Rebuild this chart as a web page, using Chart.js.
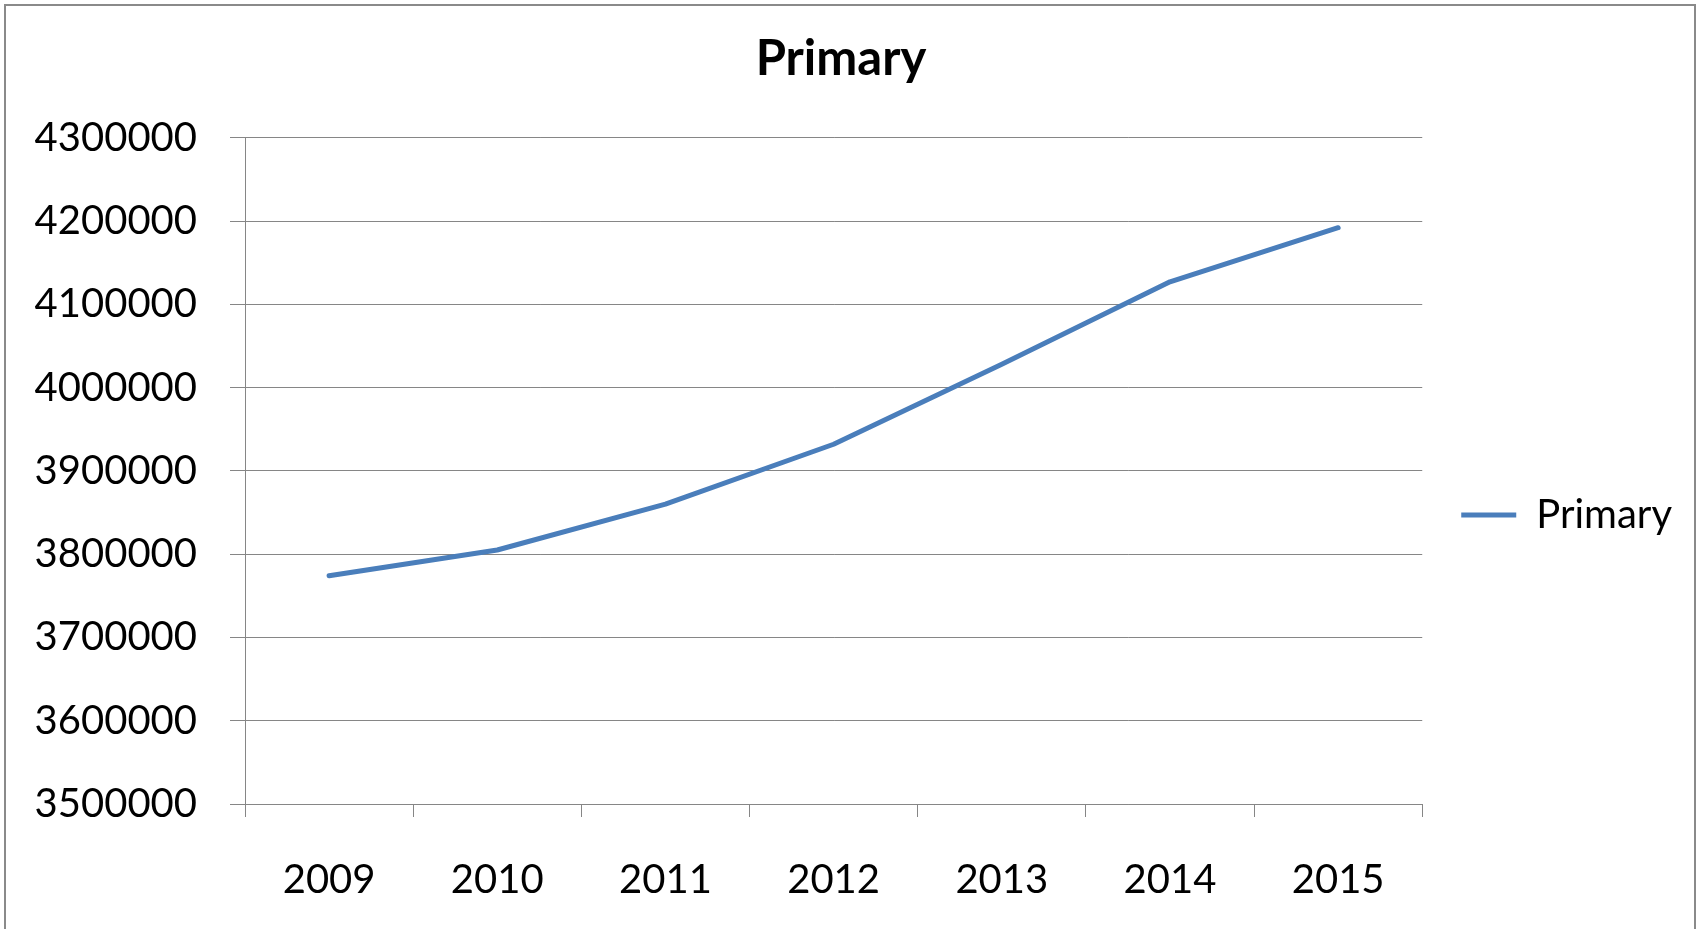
<!DOCTYPE html>
<html>
<head>
<meta charset="utf-8">
<title>Primary</title>
<script src="https://cdn.jsdelivr.net/npm/chart.js@4/dist/chart.umd.min.js"></script>
<style>
  html, body { margin: 0; padding: 0; background: #fff; overflow: hidden; }
  #wrap { width: 1699px; height: 1030px; }
</style>
</head>
<body>
<div id="wrap">
  <canvas id="primaryChart" width="1699" height="1030"></canvas>
</div>
<script>
// data
var years = ["2009", "2010", "2011", "2012", "2013", "2014", "2015"];
var primary = [3774000, 3805000, 3860000, 3932000, 4028000, 4127000, 4192000];
var yTicks = [3500000, 3600000, 3700000, 3800000, 3900000, 4000000, 4100000, 4200000, 4300000];

var gridGray = "#868686";
var lineBlue = "#4a7ebb";

// grey frame round the whole chart, like the spreadsheet chart box
var frame = {
  id: "frame",
  beforeDraw: function (chart) {
    var ctx = chart.ctx;
    ctx.save();
    ctx.fillStyle = "#ffffff";
    ctx.fillRect(0, 0, chart.width, chart.height);
    ctx.strokeStyle = "#8a8a8a";
    ctx.lineWidth = 2;
    ctx.strokeRect(5, 5, 1690, 1020);
    ctx.restore();
  }
};

var chart = new Chart(document.getElementById("primaryChart"), {
  type: "line",
  data: {
    labels: years,
    datasets: [{
      label: "Primary",
      data: primary,
      borderColor: lineBlue,
      backgroundColor: lineBlue,
      borderWidth: 5,
      borderCapStyle: "round",
      borderJoinStyle: "round",
      pointRadius: 0,
      pointHoverRadius: 0,
      tension: 0,
      fill: false
    }]
  },
  options: {
    responsive: false,
    animation: false,
    layout: { padding: { left: 0, right: 17, top: 0, bottom: 0 } },
    plugins: {
      title: {
        display: true,
        text: "Primary",
        color: "#000",
        font: { family: "Lato", size: 49, weight: "bold", lineHeight: 1.2 },
        padding: { top: 30, bottom: 49 }
      },
      legend: {
        position: "right",
        labels: {
          color: "#000",
          font: { family: "Lato", size: 40 },
          usePointStyle: true,
          pointStyle: "line",
          pointStyleWidth: 55,
          padding: 39
        }
      },
      tooltip: { enabled: false }
    },
    scales: {
      x: {
        offset: true,
        afterFit: function (scale) { scale.height = 226; },
        grid: {
          offset: true,
          drawOnChartArea: false,
          drawTicks: true,
          tickLength: 13,
          color: gridGray,
          lineWidth: 1
        },
        border: { color: gridGray, width: 1 },
        ticks: {
          color: "#000",
          font: { family: "Lato", size: 40, lineHeight: 1.2 },
          padding: 39,
          maxRotation: 0
        }
      },
      y: {
        min: 3500000,
        max: 4300000,
        afterFit: function (scale) { scale.width = 245; },
        afterBuildTicks: function (scale) {
          scale.ticks = yTicks.map(function (v) { return { value: v }; });
        },
        grid: {
          color: gridGray,
          lineWidth: 1,
          drawTicks: true,
          tickLength: 15
        },
        border: { color: gridGray, width: 1 },
        ticks: {
          color: "#000",
          font: { family: "Lato", size: 40, lineHeight: 1.2 },
          padding: 33,
          callback: function (value) { return String(value); }
        }
      }
    }
  },
  plugins: [frame]
});
</script>
</body>
</html>
